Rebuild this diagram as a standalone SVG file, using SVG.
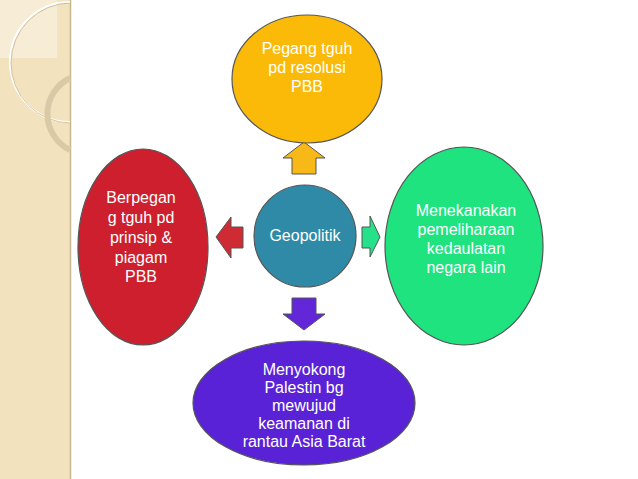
<svg xmlns="http://www.w3.org/2000/svg" width="638" height="479" viewBox="0 0 638 479">
<style>
.t{font-family:"Liberation Sans",Arial,sans-serif;font-size:16px;text-anchor:middle}
.n{stroke:#555;stroke-width:1.2}
.a{stroke:#555;stroke-width:1}
</style>
<rect width="638" height="479" fill="#fff"/>
<g id="panel">
<rect x="0" y="0" width="70" height="479" fill="#f2e2bd"/>
<rect x="0" y="0" width="57" height="58" fill="#f7ecd5"/>
<line x1="70.5" y1="0" x2="70.5" y2="479" stroke="#c8b690" stroke-width="1.5"/>
<path d="M70 2 A58 58 0 0 0 70 122" fill="none" stroke="#fff" stroke-width="2"/>
<path d="M70 2 A58 58 0 0 0 70 122" fill="none" stroke="#c9b58d" stroke-width="0.8" transform="translate(1,1)"/>
<path d="M70 78 A40 40 0 0 0 70 150" fill="none" stroke="#d9c9a6" stroke-width="6"/>
</g>
<g id="connectors">
<polygon class="a" fill="#f8b817" points="304,142 325,158 316,158 316,174 292,174 292,158 283,158"/>
<polygon class="a" fill="#cf2b35" points="216,237 231,217 231,227 243,227 243,248 231,248 231,258"/>
<polygon class="a" fill="#27e08a" points="380,237 370,216 370,227 362,227 362,248 370,248 370,257"/>
<polygon class="a" fill="#6127d8" points="304,330 325,314 316,314 316,298 292,298 292,314 283,314"/>
</g>
<g id="center"><circle class="n" cx="305" cy="236" r="51" fill="#2e8aa6"/><text class="t" x="305" y="241" fill="#fff" font-size="13">Geopolitik</text></g>
<g id="top"><ellipse class="n" cx="307" cy="79" rx="75" ry="64" fill="#fbba07"/>
<text class="t" fill="#fff"><tspan x="307" y="54">Pegang tguh</tspan><tspan x="307" y="73">pd resolusi</tspan><tspan x="307" y="92">PBB</tspan></text></g>
<g id="left"><ellipse class="n" cx="143" cy="247" rx="65" ry="98" fill="#cd1f2e"/>
<text class="t" fill="#fff"><tspan x="141" y="203">Berpegan</tspan><tspan x="141" y="223">g tguh pd</tspan><tspan x="141" y="243">prinsip &amp;</tspan><tspan x="141" y="263">piagam</tspan><tspan x="141" y="282">PBB</tspan></text></g>
<g id="right"><ellipse class="n" cx="464" cy="246" rx="79" ry="99" fill="#1ee37f"/>
<text class="t" fill="#fff"><tspan x="466" y="216">Menekanakan</tspan><tspan x="466" y="235">pemeliharaan</tspan><tspan x="466" y="254">kedaulatan</tspan><tspan x="466" y="273">negara lain</tspan></text></g>
<g id="bottom"><ellipse class="n" cx="304" cy="403" rx="111" ry="62" fill="#5a22d6"/>
<text class="t" fill="#fff"><tspan x="304" y="375">Menyokong</tspan><tspan x="304" y="393">Palestin bg</tspan><tspan x="304" y="411">mewujud</tspan><tspan x="304" y="429">keamanan di</tspan><tspan x="304" y="447">rantau Asia Barat</tspan></text></g>
</svg>
